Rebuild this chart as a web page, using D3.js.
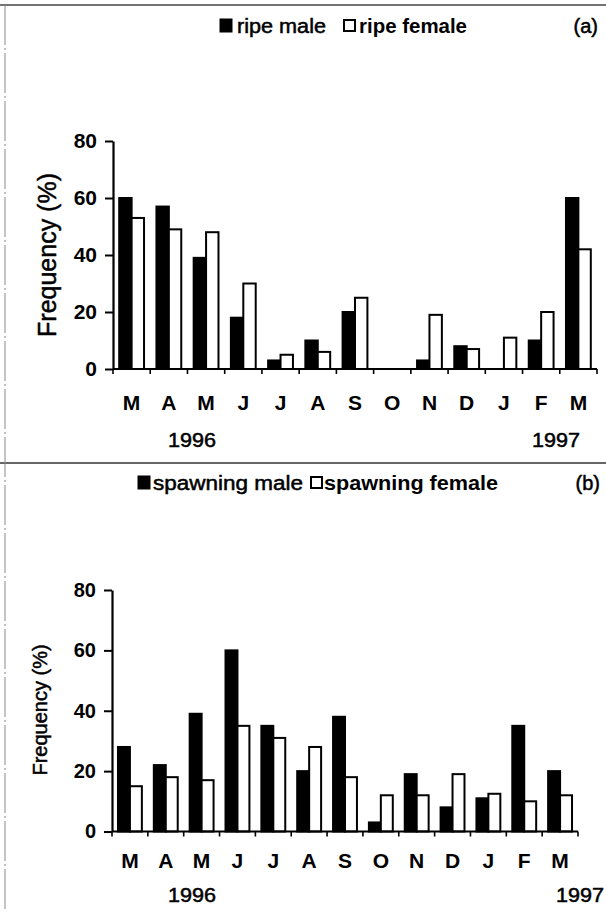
<!DOCTYPE html>
<html>
<head>
<meta charset="utf-8">
<script src="https://cdn.jsdelivr.net/npm/d3@7"></script>
<style>
  body { margin: 0; background: #fff; }
  svg { display: block; font-family: Arial, "Liberation Sans", sans-serif; }
  .ink { stroke: #000; stroke-width: 0.5px; }
</style>
</head>
<body>
<div class="chart"></div>
<script>
// month ticks, March 1996 .. March 1997
var months = ["M", "A", "M", "J", "J", "A", "S", "O", "N", "D", "J", "F", "M"];
var yTicks = [0, 20, 40, 60, 80];
var years = ["1996", "1997"];

// panel (a) ripe fish, % frequency
var ripeMale = [60, 57, 39, 18, 3, 10, 20, 0, 3, 8, 0, 10, 60];
var ripeFemale = [53, 49, 48, 30, 5, 6, 25, 0, 19, 7, 11, 20, 42];

// panel (b) spawning fish, % frequency
var spawnMale = [28, 22, 39, 60, 35, 20, 38, 3, 19, 8, 11, 35, 20];
var spawnFemale = [15, 18, 17, 35, 31, 28, 18, 12, 12, 19, 12.5, 10, 12];

var svgWidth = 606, svgHeight = 912;

var svg = d3.select(".chart")
  .append("svg")
  .attr("width", svgWidth)
  .attr("height", svgHeight);

// scanned page frame lines
svg.append("line").attr("x1", 0).attr("x2", 606).attr("y1", 5).attr("y2", 5)
  .attr("stroke", "#444").attr("stroke-width", 1.3);
svg.append("line").attr("x1", 0).attr("x2", 606).attr("y1", 463).attr("y2", 463)
  .attr("stroke", "#333").attr("stroke-width", 1.5);
svg.append("line").attr("x1", 5).attr("x2", 5).attr("y1", 5).attr("y2", 912)
  .attr("stroke", "#888").attr("stroke-width", 1).attr("stroke-dasharray", "40,3,2,3");

function drawPanel(p) {
  var g = svg.append("g");

  var x0 = d3.scaleBand()
    .domain(d3.range(months.length))
    .range([p.left, p.right])
    .padding(0);

  var x1 = d3.scaleBand()
    .domain(["male", "female"])
    .range([0, x0.bandwidth()])
    .paddingInner(0)
    .paddingOuter(0.5);

  var y = d3.scaleLinear()
    .domain([0, 80])
    .range([p.bottom, p.top]);

  var rows = months.map(function(m, i) {
    return { i: i, male: p.male[i], female: p.female[i] };
  });

  // bars
  var groups = g.selectAll(".month")
    .data(rows)
    .enter()
    .append("g")
    .attr("transform", d => `translate(${x0(d.i)},0)`);

  groups.selectAll("rect")
    .data(d => [{ k: "male", v: d.male }, { k: "female", v: d.female }])
    .enter()
    .append("rect")
    .attr("x", d => x1(d.k))
    .attr("y", d => y(d.v))
    .attr("width", x1.bandwidth())
    .attr("height", d => y(0) - y(d.v))
    .attr("fill", d => d.k === "male" ? "#000" : "#fff")
    .attr("stroke", "#000")
    .attr("stroke-width", 2);

  // y axis
  var yAxis = d3.axisLeft(y)
    .tickValues(yTicks)
    .tickSize(8)
    .tickSizeOuter(0)
    .tickPadding(8);

  var ya = g.append("g")
    .attr("transform", `translate(${p.left},0)`)
    .call(yAxis);
  ya.select(".domain").attr("stroke-width", 2.2);
  ya.selectAll(".tick line").attr("stroke-width", 2);
  ya.selectAll("text")
    .attr("font-size", p.tickFont)
    .attr("font-weight", "bold")
    .attr("fill", "#000")
    .attr("font-family", "Arial, 'Liberation Sans', sans-serif");

  // x axis line + month boundary ticks
  g.append("line")
    .attr("x1", p.left).attr("x2", p.right)
    .attr("y1", y(0)).attr("y2", y(0))
    .attr("stroke", "#000").attr("stroke-width", 2.2);

  var bounds = d3.range(months.length + 1);
  g.selectAll(".xtick")
    .data(bounds)
    .enter()
    .append("line")
    .attr("x1", d => d < months.length ? x0(d) : p.right)
    .attr("x2", d => d < months.length ? x0(d) : p.right)
    .attr("y1", y(0))
    .attr("y2", y(0) + 5)
    .attr("stroke", "#000")
    .attr("stroke-width", 1.6);

  // month labels
  g.selectAll(".mlabel")
    .data(rows)
    .enter()
    .append("text")
    .attr("x", d => x0(d.i) + x0.bandwidth() / 2)
    .attr("y", p.monthY)
    .attr("text-anchor", "middle")
    .attr("font-size", 21)
    .attr("font-weight", "bold")
    .text(d => months[d.i]);

  // year labels
  g.selectAll(".year")
    .data(years)
    .enter()
    .append("text")
    .attr("class", "ink")
    .attr("x", (d, i) => p.yearX[i])
    .attr("y", p.yearY)
    .attr("text-anchor", "middle")
    .attr("font-size", 20)
    .attr("textLength", 48)
    .attr("lengthAdjust", "spacingAndGlyphs")
    .text(d => d);

  // y title
  g.append("text")
    .attr("class", "ink")
    .attr("transform", `translate(${p.titleX},${(p.titleY)}) rotate(-90)`)
    .attr("text-anchor", "middle")
    .attr("dy", "0.35em")
    .attr("font-size", p.titleFont)
    .text("Frequency (%)");

  // legend
  var lg = g.append("g");
  lg.append("rect")
    .attr("x", p.leg[0]).attr("y", p.legY - 14)
    .attr("width", 12).attr("height", 13)
    .attr("fill", "#000").attr("stroke", "#000").attr("stroke-width", 1);
  lg.append("text")
    .attr("class", "ink")
    .attr("x", p.leg[1]).attr("y", p.legY)
    .attr("font-size", 20)
    .attr("textLength", p.legW[0])
    .attr("lengthAdjust", "spacingAndGlyphs")
    .text(p.labels[0]);
  lg.append("rect")
    .attr("x", p.leg[2]).attr("y", p.legY - 13)
    .attr("width", 11).attr("height", 11)
    .attr("fill", "#fff").attr("stroke", "#000").attr("stroke-width", 2);
  lg.append("text")
    .attr("x", p.leg[3]).attr("y", p.legY)
    .attr("font-size", 20)
    .attr("font-weight", "bold")
    .attr("textLength", p.legW[1])
    .attr("lengthAdjust", "spacingAndGlyphs")
    .text(p.labels[1]);

  g.append("text")
    .attr("class", "ink")
    .attr("x", p.tagX).attr("y", p.legY)
    .attr("text-anchor", "end")
    .attr("font-size", 20)
    .text(p.tag);
}

drawPanel({
  male: ripeMale, female: ripeFemale,
  left: 113, right: 597, top: 141, bottom: 369,
  tickFont: 21, titleFont: 25, titleX: 47, titleY: 255,
  monthY: 410, yearY: 447, yearX: [192, 556],
  labels: ["ripe male", "ripe female"],
  leg: [220, 237, 344, 359], legW: [89, 108], legY: 33,
  tag: "(a)", tagX: 598
});

drawPanel({
  male: spawnMale, female: spawnFemale,
  left: 112, right: 578, top: 590, bottom: 831.5,
  tickFont: 20, titleFont: 20, titleX: 40, titleY: 710,
  monthY: 868, yearY: 902, yearX: [192, 580],
  labels: ["spawning male", "spawning female"],
  leg: [138, 153, 311, 324], legW: [150, 174], legY: 490,
  tag: "(b)", tagX: 600
});
</script>
</body>
</html>
